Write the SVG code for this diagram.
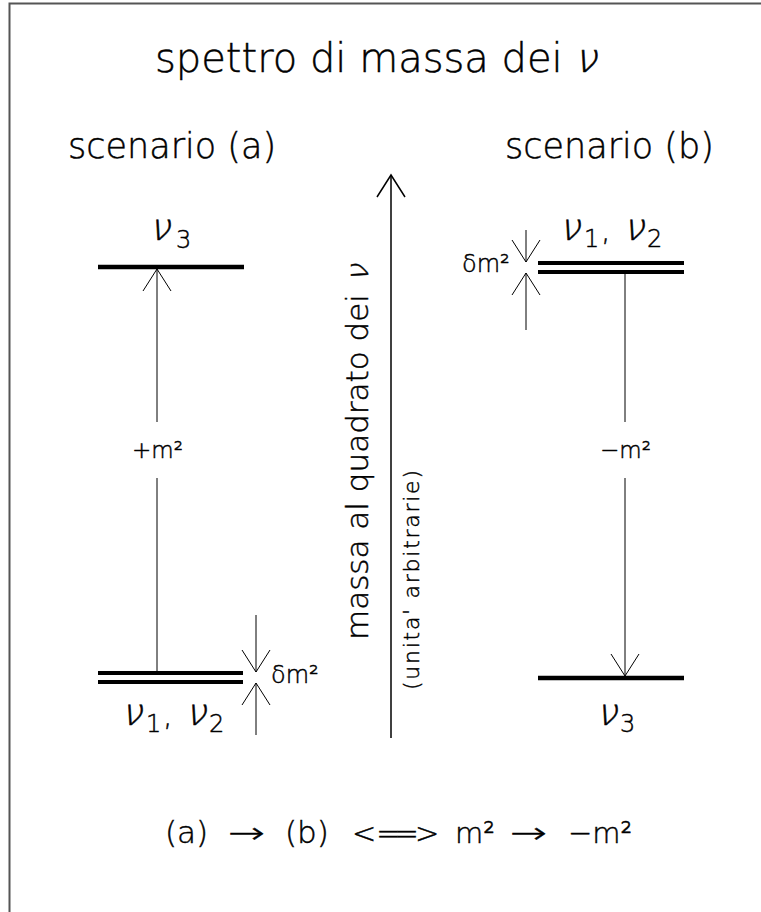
<svg xmlns="http://www.w3.org/2000/svg" width="761" height="912" viewBox="0 0 761 912">
<style>
.t{font-family:"DejaVu Sans","Liberation Sans",sans-serif;font-weight:200;fill:#000;stroke:#000;stroke-width:0.45}
.nu{font-family:"DejaVu Sans","Liberation Sans",sans-serif;font-weight:200;fill:#000;stroke:#000;stroke-width:0.55}
.lvl{stroke:#000;stroke-width:4.5;fill:none}
.thin{stroke:#000;stroke-width:1;fill:none}
.frame{stroke:#555;stroke-width:2;fill:none}
</style>
<defs>
<marker id="v" viewBox="-24 -16 26 32" refX="0" refY="0" markerWidth="26" markerHeight="32" markerUnits="userSpaceOnUse" orient="auto">
<path d="M-22,-14 L0,0 L-22,14" fill="none" stroke="#000" stroke-width="1"/>
</marker>
<marker id="vb" viewBox="-24 -16 26 32" refX="0" refY="0" markerWidth="26" markerHeight="32" markerUnits="userSpaceOnUse" orient="auto">
<path d="M-22,-14 L0,0 L-22,14" fill="none" stroke="#000" stroke-width="1.5"/>
</marker>
</defs>
<rect width="761" height="912" fill="#fff"/>
<path class="frame" d="M9.5,912 V3.5 H761"/>

<g id="title">
<text class="t" x="155" y="72" font-size="40">spettro di massa dei</text>
<text class="nu" font-size="40" transform="translate(574,72) skewX(-14)">ν</text>
</g>
<g id="scenario-a"><text class="t" x="68" y="158" font-size="35">scenario (a)</text></g>
<g id="scenario-b"><text class="t" x="505" y="158" font-size="35">scenario (b)</text></g>

<g id="level-a-nu3">
<line class="lvl" x1="98" y1="267" x2="244" y2="267"/>
<text class="nu" font-size="37" transform="translate(149,240) skewX(-14)">ν</text>
<text class="t" font-size="24" x="176" y="248">3</text>
</g>
<g id="level-a-nu12">
<line class="lvl" x1="98" y1="673" x2="243" y2="673" style="stroke-width:4"/>
<line class="lvl" x1="98" y1="682" x2="243" y2="682" style="stroke-width:4"/>
<text class="nu" font-size="37" transform="translate(121,725) skewX(-14)">ν</text>
<text class="t" font-size="24" x="146" y="732">1</text>
<text class="t" font-size="30" x="163" y="725">,</text>
<text class="nu" font-size="37" transform="translate(185,725) skewX(-14)">ν</text>
<text class="t" font-size="24" x="209" y="732">2</text>
</g>
<g id="level-b-nu12">
<line class="lvl" x1="538" y1="263" x2="684" y2="263" style="stroke-width:4"/>
<line class="lvl" x1="538" y1="272" x2="684" y2="272" style="stroke-width:4"/>
<text class="nu" font-size="37" transform="translate(559,240) skewX(-14)">ν</text>
<text class="t" font-size="24" x="584" y="247">1</text>
<text class="t" font-size="30" x="601" y="240">,</text>
<text class="nu" font-size="37" transform="translate(623,240) skewX(-14)">ν</text>
<text class="t" font-size="24" x="647" y="247">2</text>
</g>
<g id="level-b-nu3">
<line class="lvl" x1="538" y1="678" x2="684" y2="678"/>
<text class="nu" font-size="37" transform="translate(596,725) skewX(-14)">ν</text>
<text class="t" font-size="24" x="620" y="732">3</text>
</g>

<g id="axis">
<text class="t" font-size="31" transform="translate(368,640) rotate(-90)">massa al quadrato dei</text>
<text class="nu" font-size="31" transform="translate(368,640) rotate(-90) translate(358,0) skewX(-14)">ν</text>
<text class="t" font-size="22" textLength="220" lengthAdjust="spacing" transform="translate(419,690) rotate(-90)">(unita' arbitrarie)</text>
</g>

<g id="labels">
<text class="t" x="132" y="458" font-size="23">+m²</text>
<text class="t" x="600" y="458" font-size="23">−m²</text>
<text class="t" x="271" y="683" font-size="24">δm²</text>
<text class="t" x="462" y="272" font-size="24">δm²</text>
</g>

<g id="connectors">
<path class="thin" d="M157,672 V478 M157,422 V269" marker-end="url(#v)"/>
<path class="thin" d="M625,272 V422 M625,478 V676" marker-end="url(#v)"/>
<path class="thin" d="M256,615 V672" marker-end="url(#v)"/>
<path class="thin" d="M256,735 V683" marker-end="url(#v)"/>
<path class="thin" d="M526,230 V262" marker-end="url(#v)"/>
<path class="thin" d="M526,330 V273" marker-end="url(#v)"/>
<path d="M391,738 V175" fill="none" stroke="#000" stroke-width="1.5" marker-end="url(#vb)"/>
</g>

<g id="equation">
<text class="t" x="165" y="843" font-size="31">(a)</text>
<text class="t" x="228" y="843" font-size="29" textLength="37" lengthAdjust="spacingAndGlyphs">→</text>
<text class="t" x="285" y="843" font-size="31">(b)</text>
<text class="t" x="352" y="843" font-size="29">&lt;<tspan letter-spacing="-6">==</tspan><tspan dx="2">&gt;</tspan></text>
<text class="t" x="455" y="843" font-size="29">m²</text>
<text class="t" x="510" y="843" font-size="29" textLength="37" lengthAdjust="spacingAndGlyphs">→</text>
<text class="t" x="568" y="843" font-size="29">−m²</text>
</g>
</svg>
